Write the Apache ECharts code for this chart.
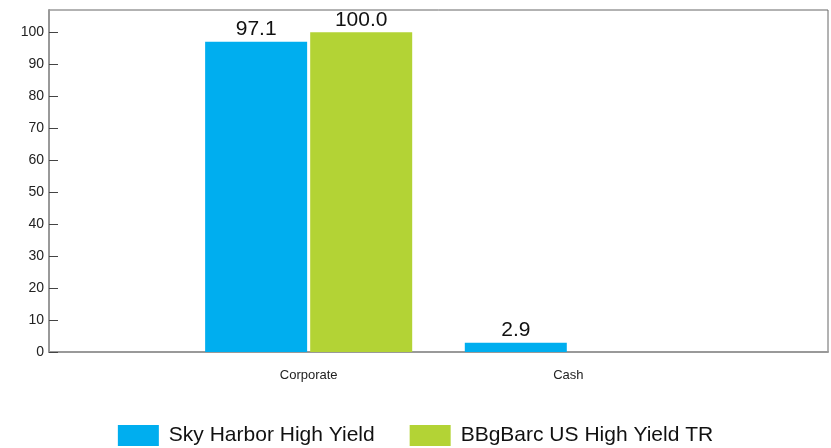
<!DOCTYPE html>
<html>
<head>
<meta charset="utf-8">
<script src="https://cdn.jsdelivr.net/npm/echarts@6/dist/echarts.min.js"></script>
<style>
  html, body { margin: 0; padding: 0; background: #fff; }
  #main { width: 831px; height: 448px; }
</style>
</head>
<body>
<div id="main"></div>
<script>
// empty end slots put the two groups at 1/3 and 2/3 of the frame
var categories = ['', 'Corporate', 'Cash', ''];
var skyHarbor = [null, 97.1, 2.9, null];
var bbgBarc = [null, 100.0, null, null];
var seriesNames = ['Sky Harbor High Yield', 'BBgBarc US High Yield TR'];

var myChart = echarts.init(document.getElementById('main'));
var labelStyle = {
    show: true,
    position: 'top',
    distance: 2,
    fontFamily: 'Liberation Sans',
    fontSize: 21,
    color: '#111',
    formatter: function (p) { return p.value == null ? '' : p.value.toFixed(1); }
};
var option = {
    animation: false,
    textStyle: { fontFamily: 'Liberation Sans' },
    grid: {
        left: 49,
        right: 1,
        top: 10,
        bottom: 96,
        show: true,
        borderColor: '#666',
        borderWidth: 1
    },
    legend: {
        top: 420,
        left: 'center',
        itemWidth: 41,
        itemHeight: 21,
        itemGap: 35,
        icon: 'rect',
        textStyle: { fontSize: 21, color: '#111', fontFamily: 'Liberation Sans', padding: [0, 0, 0, 5] },
        data: seriesNames
    },
    xAxis: {
        type: 'category',
        data: categories,
        boundaryGap: false,
        axisLine: { lineStyle: { color: '#999', width: 2 } },
        axisTick: { show: false },
        axisLabel: { fontSize: 13, color: '#222', margin: 17 }
    },
    yAxis: {
        type: 'value',
        min: 0,
        max: 107,
        interval: 10,
        splitLine: { show: false },
        axisLine: { show: true, lineStyle: { color: '#999', width: 2 } },
        axisTick: { show: true, inside: true, length: 9, lineStyle: { color: '#444' } },
        axisLabel: { fontSize: 14, color: '#222', margin: 5, showMaxLabel: false }
    },
    series: [
        {
            name: seriesNames[0],
            type: 'bar',
            data: skyHarbor,
            barWidth: 102,
            barGap: '3%',
            itemStyle: { color: '#00AEEF' },
            label: labelStyle
        },
        {
            name: seriesNames[1],
            type: 'bar',
            data: bbgBarc,
            barWidth: 102,
            barGap: '3%',
            itemStyle: { color: '#B3D335' },
            label: labelStyle
        }
    ]
};
myChart.setOption(option);
</script>
</body>
</html>
